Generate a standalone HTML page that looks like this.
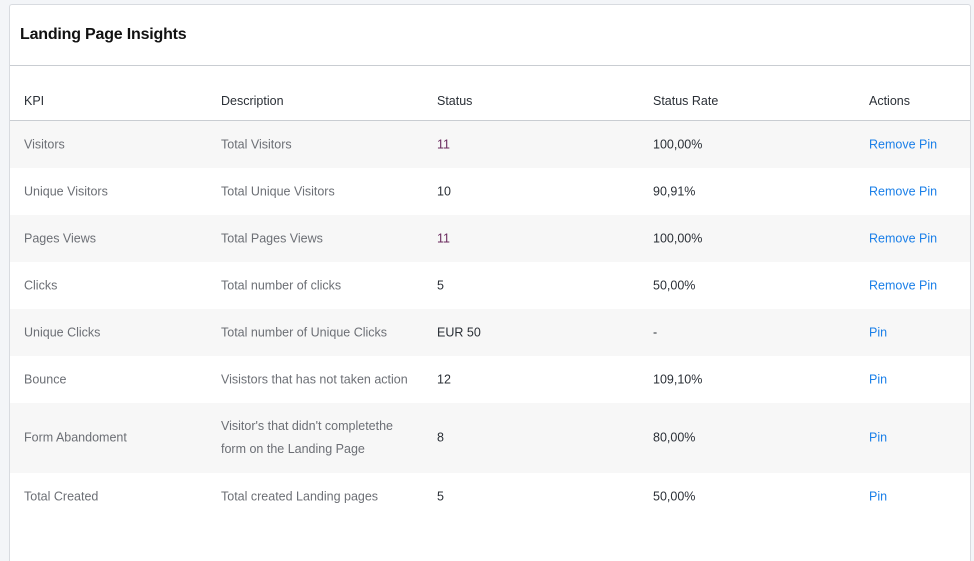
<!DOCTYPE html>
<html><head><style>
html,body{margin:0;width:974px;height:561px;overflow:hidden}
body{background:#f3f5f8;font-family:"Liberation Sans",sans-serif;position:relative}
.card{position:absolute;left:9px;top:4px;width:960px;height:570px;background:#fff;border:1px solid #d8dbe0;border-radius:3px}
.title{position:absolute;left:10px;top:21px;font-size:16px;color:#111;font-weight:bold;letter-spacing:-0.2px}
.hr{position:absolute;left:0;right:0;border-top:1px solid #c9cdd2}
.row{position:absolute;left:0;right:0;font-size:12.5px;color:#6c6f75}
.row span{position:absolute;top:50%;transform:translateY(-50%);line-height:23px}
.h span{top:auto;transform:none;bottom:8px}
.c1{left:14px}.c2{left:211px}.c3{left:427px;color:#2a2f36}.c4{left:643px;color:#2a2f36}.c5{left:859px;color:#1a7fe8}
.g{background:#f7f7f7}
.h{color:#2a2f36}
</style></head><body>
<div class="card">
<div class="title">Landing Page Insights</div>
<div class="hr" style="top:60px"></div>
<div class="row h" style="top:62px;height:54px"><span class="c1">KPI</span><span class="c2">Description</span><span class="c3">Status</span><span class="c4">Status Rate</span><span class="c5" style="color:#2a2f36">Actions</span></div>
<div class="hr" style="top:115px"></div>
<div class="row g" style="top:116px;height:47px"><span class="c1">Visitors</span><span class="c2">Total Visitors</span><span class="c3" style="color:#6a2a5e">11</span><span class="c4">100,00%</span><span class="c5">Remove Pin</span></div>
<div class="row" style="top:163px;height:47px"><span class="c1">Unique Visitors</span><span class="c2">Total Unique Visitors</span><span class="c3">10</span><span class="c4">90,91%</span><span class="c5">Remove Pin</span></div>
<div class="row g" style="top:210px;height:47px"><span class="c1">Pages Views</span><span class="c2">Total Pages Views</span><span class="c3" style="color:#6a2a5e">11</span><span class="c4">100,00%</span><span class="c5">Remove Pin</span></div>
<div class="row" style="top:257px;height:47px"><span class="c1">Clicks</span><span class="c2">Total number of clicks</span><span class="c3">5</span><span class="c4">50,00%</span><span class="c5">Remove Pin</span></div>
<div class="row g" style="top:304px;height:47px"><span class="c1">Unique Clicks</span><span class="c2">Total number of Unique Clicks</span><span class="c3">EUR 50</span><span class="c4">-</span><span class="c5">Pin</span></div>
<div class="row" style="top:351px;height:47px"><span class="c1">Bounce</span><span class="c2">Visistors that has not taken action</span><span class="c3">12</span><span class="c4">109,10%</span><span class="c5">Pin</span></div>
<div class="row g" style="top:398px;height:70px"><span class="c1">Form Abandoment</span><span class="c2">Visitor's that didn't completethe<br>form on the Landing Page</span><span class="c3">8</span><span class="c4">80,00%</span><span class="c5">Pin</span></div>
<div class="row" style="top:468px;height:47px"><span class="c1">Total Created</span><span class="c2">Total created Landing pages</span><span class="c3">5</span><span class="c4">50,00%</span><span class="c5">Pin</span></div>
</div>
</body></html>
